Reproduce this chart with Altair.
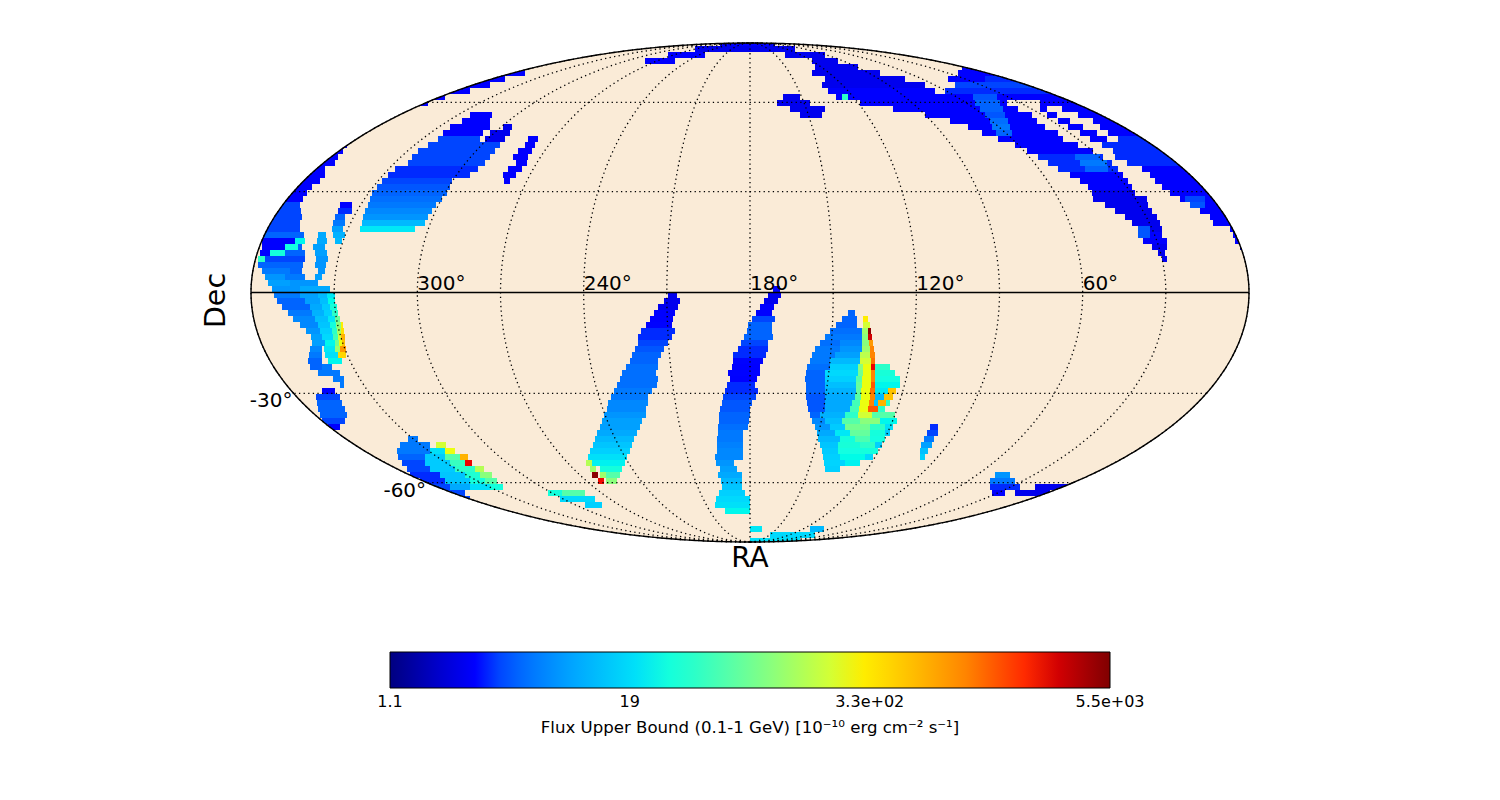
import math
import numpy as np
import pandas as pd
import altair as alt

# Strip format: (row_y, x0, flux, x1, flux, x2, ...) in map-plane units.
# A flux of None leaves a gap in the row.
TOP_SLIVER = [
    (40, 720, 3, 775), (46, 695, 2.5, 795), (52, 668, 3, 705, None, 785, 2.5, 825),
    (58, 645, 3, 675, None, 812, 2.5, 838),
]
MAIN_BAND = [
    (64, 815, 2.5, 858, None, 962, 3, 990), (70, 812, 2.5, 880, None, 958, 3, 1040),
    (76, 825, 2.5, 905, None, 948, 3, 1070), (82, 822, 2.5, 925, None, 955, 4, 1090),
    (88, 828, 3, 935, None, 945, 3.5, 1100), (94, 836, 3, 1115), (100, 860, 3, 1007, None, 1040, 3, 1130),
    (106, 893, 3, 1018, None, 1040, 3, 1047, None, 1062, 3, 1145),
    (112, 925, 3, 1032, None, 1047, 3, 1057, None, 1078, 3, 1160),
    (118, 950, 3, 1037, None, 1058, 3, 1070, None, 1093, 3, 1170),
    (124, 968, 3, 1045, None, 1068, 3, 1083, None, 1100, 3, 1180),
    (130, 982, 3, 1058, None, 1080, 3, 1097, None, 1108, 3, 1190),
    (136, 998, 3, 1063, None, 1090, 3, 1107, None, 1118, 3.5, 1195),
    (142, 1015, 3, 1078, None, 1102, 3.5, 1200), (148, 1027, 3, 1093, None, 1113, 3.5, 1210),
    (154, 1038, 3.5, 1103, None, 1115, 3.5, 1215), (160, 1048, 3.5, 1112, None, 1127, 3.5, 1220),
    (166, 1058, 3.5, 1118, None, 1142, 3, 1225), (172, 1070, 3, 1123, None, 1150, 3, 1230),
    (178, 1080, 3, 1128, None, 1155, 3, 1230), (184, 1088, 3, 1132, None, 1162, 3, 1235),
    (190, 1092, 2.5, 1135, None, 1170, 3, 1240), (196, 1093, 2.5, 1147, None, 1180, 3, 1240),
    (202, 1105, 2.5, 1148, None, 1193, 3, 1240), (208, 1115, 2.5, 1152, None, 1200, 3, 1240),
    (214, 1125, 2.5, 1157, None, 1210, 3, 1240), (220, 1132, 2.5, 1160, None, 1213, 3, 1240),
    (226, 1138, 2.5, 1162, None, 1230, 3, 1240), (232, 1138, 3, 1162, None, 1233, 3, 1240),
    (238, 1143, 3, 1167, None, 1235, 3, 1242), (244, 1152, 2.5, 1167, None, 1240, 3, 1244),
    (250, 1158, 2.5, 1165), (256, 1162, 2.5, 1167),
]
BAND_PATCHES = [
    (76, 985, 3.5, 1015), (82, 985, 4, 1030), (94, 973, 4.5, 997), (100, 975, 5, 1000),
    (106, 980, 5, 1003), (112, 985, 4.5, 1005), (118, 990, 5.5, 1008), (124, 992, 6, 1010),
    (130, 996, 5, 1012), (154, 1075, 5, 1100), (160, 1080, 6, 1107), (166, 1085, 5, 1108),
    (196, 1185, 4, 1205), (202, 1190, 4.5, 1205), (226, 1138, 4.5, 1150), (232, 1138, 4.5, 1150),
    (94, 842, 40, 848),
]
ISLAND = [
    (94, 783, 2.5, 800), (100, 777, 2.5, 810), (106, 790, 2.5, 825), (112, 800, 2.5, 822),
]
LEFT_EDGE = [
    (70, 500, 3, 525), (76, 470, 3, 505), (82, 465, 3, 490), (88, 440, 3, 470), (94, 430, 3, 445),
    (100, 415, 3, 428),
    (142, 330, 3, 347), (148, 320, 3, 343), (154, 310, 3, 338), (160, 300, 3, 335), (166, 300, 3, 325),
    (172, 290, 3, 325), (178, 280, 3, 320), (184, 280, 3, 312), (190, 270, 3, 307), (196, 260, 3, 303),
    (202, 255, 4, 300), (208, 255, 4, 301), (214, 255, 4, 302), (220, 255, 4, 300), (226, 255, 4, 300),
    (232, 255, 5, 304),
    (238, 262, 3, 295, 25, 305), (244, 262, 3, 285, 28, 298, 5, 302), (250, 260, 3, 270, 30, 285, 5, 305),
    (256, 258, 40, 265, 4, 305), (262, 258, 5, 303), (268, 262, 6, 290, 5, 302),
    (274, 265, 8, 285, 6, 305), (280, 268, 9, 290, 8, 318), (286, 272, 8, 300, 10, 330),
    (292, 274, 6, 300, 9, 318, 12, 327, 22, 335), (298, 277, 5, 305, 9, 320, 13, 328, 26, 335),
    (304, 282, 5, 310, 10, 322, 15, 330, 32, 337), (310, 288, 6, 312, 11, 324, 16, 332, 40, 338),
    (316, 293, 7, 315, 13, 328, 22, 335, 70, 340), (322, 300, 7, 318, 14, 330, 30, 336, 100, 341, 300, 343),
    (328, 306, 8, 320, 16, 332, 40, 337, 130, 341, 350, 344), (334, 311, 9, 322, 18, 333, 50, 338, 200, 341, 600, 345),
    (340, 312, 9, 325, 25, 335, 80, 339, 250, 342, 500, 345), (346, 310, 7, 322, None, 324, 22, 335, 120, 340, 800, 346),
    (352, 309, 6, 322, None, 325, 20, 338, 400, 346), (358, 308, 5, 322, None, 328, 25, 342),
    (364, 310, 5, 322, 6, 332), (370, 318, 6, 340), (376, 333, 6, 344), (382, 340, 6, 344),
]
LEFT_COLUMN = [
    (202, 340, 3, 352), (208, 338, 3.5, 352), (214, 335, 5, 345), (220, 333, 6, 345), (226, 332, 9, 343),
    (232, 318, 10, 326, None, 333, 11, 345), (238, 317, 10, 327, None, 335, 12, 342), (244, 313, 9, 325),
    (250, 315, 9, 327), (256, 316, 8, 328), (262, 315, 8, 326), (268, 318, 8, 325), (274, 315, 9, 322),
]
LEFT_CHUNK = [
    (388, 322, 3, 335), (394, 316, 4, 340), (400, 317, 5, 342), (406, 318, 5, 345), (412, 320, 5, 347),
    (418, 322, 4, 345), (424, 328, 3, 340),
]
BIG_PATCH = [
    (112, 470, 3, 492), (118, 462, 3, 490), (124, 450, 3, 490, None, 503, 2.5, 512),
    (130, 443, 3, 483, None, 490, 2.5, 510), (136, 438, 4, 480, None, 485, 2.5, 505), (142, 428, 4, 500),
    (148, 418, 4, 495), (154, 412, 4, 490), (160, 408, 4, 485), (166, 395, 3.5, 478), (172, 388, 3.5, 470),
    (178, 382, 4, 452), (184, 377, 4.5, 450), (190, 372, 5, 447), (196, 370, 5.5, 442), (202, 368, 6, 436),
    (208, 365, 7, 432), (214, 363, 8, 428), (220, 362, 12, 425), (226, 360, 22, 415),
]
STREAK_A = [
    (136, 528, 3, 538), (142, 525, 3, 535), (148, 518, 3, 532), (154, 513, 3, 528), (160, 516, 3, 527),
    (166, 508, 3, 522), (172, 503, 3, 516), (178, 504, 3, 510),
]
SOUTH_WEST = [
    (436, 408, 6, 418), (442, 400, 6, 430, None, 436, 200, 446), (448, 397, 6, 430, 20, 445, 250, 455),
    (454, 398, 5, 425, 15, 445, 60, 460, 600, 468), (460, 402, 4, 425, 15, 450, 45, 465, 2500, 472),
    (466, 407, 4, 430, 15, 455, 40, 475, 150, 484), (472, 410, 3.5, 440, 14, 465, 35, 480, 100, 492),
    (478, 420, 3.5, 445, 14, 470, 30, 485, 60, 497), (484, 428, 4, 450, 10, 470, 20, 490, 30, 503),
    (490, 440, 4, 465), (496, 455, 4, 470),
]
SOUTH_MID = [
    (490, 548, 30, 562, 60, 585), (496, 560, 18, 595), (502, 585, 16, 602),
]
BAND_240 = [
    (292, 668, 2.5, 677), (298, 664, 2.5, 680), (304, 658, 2.5, 678), (310, 654, 2.8, 675), (316, 650, 3, 673),
    (322, 646, 3.2, 672), (328, 641, 3.5, 675), (334, 638, 3.5, 672), (340, 638, 4, 668), (346, 635, 4.5, 664),
    (352, 632, 5, 661), (358, 630, 5, 658), (364, 626, 5.5, 658), (370, 622, 5.5, 656), (376, 620, 5.5, 658),
    (382, 617, 5.5, 657), (388, 614, 6, 652), (394, 611, 6, 648), (400, 608, 7, 648), (406, 607, 7, 646),
    (412, 604, 8, 646), (418, 602, 9, 642), (424, 600, 9, 640), (430, 597, 10, 637), (436, 595, 12, 634),
    (442, 593, 14, 632), (448, 590, 16, 630), (454, 588, 20, 627), (460, 586, 150, 592, 24, 625),
    (466, 590, 120, 596, None, 600, 30, 622), (472, 592, 5000, 598, None, 600, 120, 606, 60, 620),
    (478, 598, 2400, 604, None, 606, 100, 617),
]
BAND_180 = [
    (286, 773, 3, 780), (292, 768, 2.5, 781), (298, 764, 2.5, 778), (304, 760, 3, 774), (310, 756, 3, 772),
    (316, 752, 4, 775), (322, 748, 5, 772), (328, 747, 5, 772), (334, 744, 5, 773), (340, 741, 4, 768),
    (346, 738, 3.5, 768), (352, 733, 3.5, 766), (358, 733, 3.2, 763), (364, 732, 3, 760), (370, 728, 3.2, 760),
    (376, 730, 3, 757), (382, 727, 3.5, 755), (388, 725, 3.5, 758), (394, 723, 4, 756), (400, 722, 4.5, 752),
    (406, 720, 4.5, 750), (412, 719, 5, 750), (418, 719, 5, 749), (424, 718, 5.5, 748), (430, 718, 6, 743),
    (436, 717, 6, 743), (442, 717, 6.5, 743), (448, 717, 7, 743), (454, 715, 7, 743), (460, 716, 8, 734),
    (466, 720, 9, 737), (472, 718, 10, 742), (478, 721, 12, 742), (484, 722, 14, 742), (490, 719, 16, 745),
    (496, 716, 18, 750), (502, 715, 20, 750), (508, 725, 25, 750),
]
SOUTH_POLE = [
    (526, 750, 22, 762, None, 810, 12, 824), (532, 770, 18, 815), (538, 750, 20, 800),
]
SOUTH_EAST = [
    (472, 995, 8, 1010), (478, 990, 6, 1015), (484, 990, 3.5, 1020, None, 1035, 2.5, 1072),
    (490, 992, 3, 1005, None, 1015, 2.5, 1050),
]
CENTRAL_PATCH = [
    (310, 848, 5, 855), (316, 842, 5, 857, None, 863, 300, 868), (322, 836, 5, 857, None, 863, 200, 870),
    (328, 830, 5.5, 862, 120, 868, 5000, 871), (334, 825, 6, 862, 100, 868, 3000, 872),
    (340, 820, 5.5, 840, 7, 862, 100, 869, 800, 873), (346, 815, 6, 840, 8, 862, 120, 870, 1000, 874),
    (352, 812, 6, 835, 9, 860, 160, 870, 1000, 875), (358, 810, 6, 830, 12, 860, 200, 871, 1200, 875),
    (364, 807, 5.5, 830, 16, 858, 100, 863, 250, 871, 2500, 875, 40, 890),
    (370, 806, 5, 825, 18, 858, 80, 863, 250, 871, 1000, 875, 32, 895),
    (376, 805, 5, 825, 16, 856, 60, 862, 250, 871, 1000, 875, 28, 900),
    (382, 806, 5, 825, 13, 856, 70, 862, 250, 871, 1500, 875, 25, 900),
    (388, 806, 5, 825, 11, 856, 70, 861, 250, 870, 1200, 875, 22, 888, 500, 896),
    (394, 806, 4.5, 825, 10, 855, 60, 861, 250, 870, 1000, 875, 12, 884, 500, 893),
    (400, 807, 4.5, 825, 10, 852, 50, 860, 250, 869, 1000, 874, 14, 878, 600, 886, 40, 890),
    (406, 808, 4.5, 825, 10, 850, 50, 859, 250, 868, 1500, 878, 40, 885),
    (412, 810, 5, 820, 11, 845, 40, 858, 200, 872, 60, 895),
    (418, 812, 7, 825, 13, 842, 60, 860, 100, 880, 25, 897),
    (424, 815, 8, 830, 15, 845, 80, 870, 40, 885, 20, 893),
    (430, 817, 10, 835, 22, 850, 70, 870, 30, 885, 15, 890),
    (436, 818, 12, 840, 30, 855, 55, 870, 28, 885),
    (442, 820, 14, 838, 32, 860, 40, 875, 16, 882),
    (448, 822, 15, 838, 28, 860, 30, 878),
    (454, 823, 16, 840, 26, 865, 18, 873),
    (460, 824, 17, 845, 24, 860),
    (466, 825, 16, 840),
]
STREAK_B = [
    (424, 930, 3.5, 938), (430, 927, 4, 938), (436, 924, 6, 934), (442, 921, 9, 932), (448, 920, 13, 928),
    (454, 920, 16, 925),
]

FLUX_MIN = 1.1
FLUX_MAX = 5500
CBAR_TICKS = [1.1, 18.76, 320.6, 5500]
CBAR_LABELS = ["1.1", "19", "3.3e+02", "5.5e+03"]
CBAR_TITLE = "Flux Upper Bound (0.1-1 GeV) [10⁻¹⁰ erg cm⁻² s⁻¹]"
RA_TICKS = [300, 240, 180, 120, 60]
DEC_TICKS = [-30, -60]
MERIDIANS = [0, 30, 60, 90, 120, 150, 180, 210, 240, 270, 300, 330, 360]
PARALLELS = [60, 30, -30, -60]
JET_POS = [0, .11, .125, .35, .375, .64, .66, .89, .91, 1]
JET_COL = ["#000080", "#0000ff", "#0000ff", "#00e6f7", "#14ffe3", "#eeff08", "#ffec00", "#ff1300", "#e80000", "#800000"]

CX, CY, RX, RY = 750.0, 292.5, 499.0, 249.5
FONT = "DejaVu Sans"
BEIGE = "#faebd7"


def theta_of(dec):
    phi = math.radians(dec)
    if abs(dec) == 90:
        return phi
    t = phi
    for _ in range(60):
        t -= (2 * t + math.sin(2 * t) - math.pi * math.sin(phi)) / (2 + 2 * math.cos(2 * t))
    return t


def project(ra, dec):
    t = theta_of(dec)
    return CX - (ra - 180) / 180 * RX * math.cos(t), CY - RY * math.sin(t)


strips = []
regions = [MAIN_BAND, BAND_PATCHES, TOP_SLIVER, ISLAND, LEFT_EDGE, LEFT_COLUMN, LEFT_CHUNK, BIG_PATCH, STREAK_A,
           SOUTH_WEST, SOUTH_MID, BAND_240, BAND_180, SOUTH_POLE, SOUTH_EAST, CENTRAL_PATCH, STREAK_B]
order = 0
for region in regions:
    for row in region:
        y = row[0]
        body = row[1:]
        for i in range(0, len(body) - 2, 2):
            if body[i + 1] is not None:
                strips.append(dict(x=body[i], x2=body[i + 2], y=y, y2=y + 6, flux=body[i + 1], o=order))
                order += 1
strips = pd.DataFrame(strips)

ts = np.linspace(0, np.pi, 500)
xs = CX - RX * np.cos(ts)
half = RY * np.sin(ts)
ellipse = pd.DataFrame(dict(x=xs, top=CY - half, bot=CY + half, above=8.0, below=600.0))
outline = pd.DataFrame(dict(x=list(xs) + list(xs[::-1]), y=list(CY - half) + list((CY + half)[::-1]),
                            o=range(1000)))

grat = []
for m in MERIDIANS:
    for i, d in enumerate(np.linspace(-90, 90, 181)):
        px, py = project(m, float(d))
        grat.append(dict(x=px, y=py, g=f"m{m}", o=i))
for p in PARALLELS:
    for i, r in enumerate(np.linspace(0, 360, 181)):
        px, py = project(float(r), p)
        grat.append(dict(x=px, y=py, g=f"p{p}", o=i))
grat = pd.DataFrame(grat)

xsc = alt.Scale(domain=[8, 1492], nice=False, zero=False)
ysc = alt.Scale(domain=[792, 8], nice=False, zero=False)
X = lambda f="x": alt.X(f, type="quantitative", scale=xsc, axis=None)
Y = lambda f="y": alt.Y(f, type="quantitative", scale=ysc, axis=None)

back = alt.Chart(ellipse).mark_area(color=BEIGE, opacity=1).encode(x=X(), y=Y("top"), y2="bot")

flux_domain = [FLUX_MIN * (FLUX_MAX / FLUX_MIN) ** p for p in JET_POS]
cells = alt.Chart(strips).mark_rect(strokeWidth=0).encode(
    x=X(), x2="x2", y=Y(), y2="y2", order="o:Q",
    color=alt.Color("flux:Q", title=None, scale=alt.Scale(type="log", domain=flux_domain, range=JET_COL),
                    legend=alt.Legend(
                        orient="none", legendX=382, legendY=644, direction="horizontal",
                        gradientLength=720, gradientThickness=36, gradientStrokeColor="black",
                        gradientStrokeWidth=1, values=CBAR_TICKS, labelExpr="''", padding=0)),
)

mask_top = alt.Chart(ellipse).mark_area(color="white", opacity=1).encode(x=X(), y=Y("top"), y2="above")
mask_bot = alt.Chart(ellipse).mark_area(color="white", opacity=1).encode(x=X(), y=Y("bot"), y2="below")

graticule = alt.Chart(grat).mark_line(color="black", strokeWidth=1.3, strokeDash=[1.3, 3.3]).encode(
    x=X(), y=Y(), detail="g:N", order="o:Q")

equator = alt.Chart(pd.DataFrame(dict(x=[CX - RX], x2=[CX + RX], y=[CY]))).mark_rule(
    color="black", strokeWidth=1.3).encode(x=X(), x2="x2", y=Y())

rim = alt.Chart(outline).mark_line(color="black", strokeWidth=1.4).encode(x=X(), y=Y(), order="o:Q")

ra_df = pd.DataFrame([dict(x=project(r, 0)[0], y=project(r, 0)[1] - 3, t=f"{r}°") for r in RA_TICKS])
ra_text = alt.Chart(ra_df).mark_text(align="left", baseline="alphabetic", font=FONT, fontSize=20, color="black").encode(
    x=X(), y=Y(), text="t:N")
dec_df = pd.DataFrame([dict(x=project(360, d)[0] - 1, y=project(360, d)[1] + 8, t=f"{d}°") for d in DEC_TICKS])
dec_text = alt.Chart(dec_df).mark_text(align="right", baseline="middle", font=FONT, fontSize=20, color="black").encode(
    x=X(), y=Y(), text="t:N")
ra_title = alt.Chart(pd.DataFrame(dict(x=[CX], y=[CY + RY + 16.5], t=["RA"]))).mark_text(
    align="center", baseline="middle", font=FONT, fontSize=28, color="black").encode(x=X(), y=Y(), text="t:N")
dec_title = alt.Chart(pd.DataFrame(dict(x=[215.5], y=[CY + 8], t=["Dec"]))).mark_text(
    align="center", baseline="middle", angle=270, font=FONT, fontSize=28.5, color="black").encode(x=X(), y=Y(), text="t:N")

tick_x = [390 + 720 * math.log(t / FLUX_MIN) / math.log(FLUX_MAX / FLUX_MIN) for t in CBAR_TICKS]
ticks = alt.Chart(pd.DataFrame(dict(x=tick_x[1:-1], y=[684] * 2, y2=[688] * 2))).mark_rule(
    color="black", strokeWidth=1).encode(x=X(), y=Y(), y2="y2")
cbar_text = alt.Chart(pd.DataFrame(dict(x=tick_x, y=[702] * 4, t=CBAR_LABELS))).mark_text(
    align="center", baseline="middle", font=FONT, fontSize=16, color="black").encode(x=X(), y=Y(), text="t:N")
cbar_title = alt.Chart(pd.DataFrame(dict(x=[750.0], y=[728], t=[CBAR_TITLE]))).mark_text(
    align="center", baseline="middle", font=FONT, fontSize=16.6, color="black").encode(x=X(), y=Y(), text="t:N")

chart = alt.layer(back, cells, mask_top, mask_bot, graticule, equator, rim, ra_text, dec_text, ra_title, dec_title,
                  ticks, cbar_text, cbar_title
                  ).properties(width=1484, height=784, padding=0, background="white"
                  ).configure_view(stroke="transparent", strokeWidth=0)
chart.save("out.html", embed_options={"renderer": "svg", "actions": False})
